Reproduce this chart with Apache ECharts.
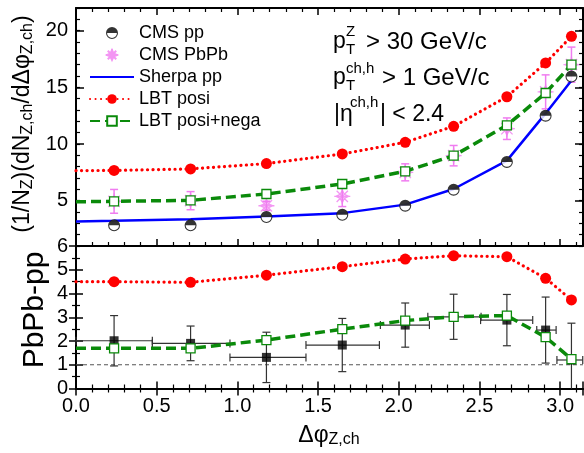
<!DOCTYPE html>
<html><head><meta charset="utf-8">
<script src="https://cdn.jsdelivr.net/npm/echarts@6/dist/echarts.min.js"></script>
<style>html,body{margin:0;padding:0;background:#fff}#c{width:584px;height:453px}</style>
</head><body><div id="c"></div>
<script>
// ---------- data ----------
const xCenters = [0.236, 0.71, 1.18, 1.65, 2.04, 2.34, 2.67, 2.91, 3.07];
const xLine = [0, 0.236, 0.71, 1.18, 1.65, 2.04, 2.34, 2.67, 2.91, 3.07];
const binLow = [0, 0.473, 0.954, 1.425, 1.886, 2.18, 2.507, 2.855, 2.98];
const binHigh = [0.473, 0.954, 1.425, 1.88, 2.19, 2.51, 2.83, 2.975, 3.14];
// top panel
const cmsPP = [2.82, 2.82, 3.56, 3.76, 4.56, 5.97, 8.42, 12.5, 15.95];
const cmsPbPb = [4.94, 5.0, 4.55, 5.38, 7.5, 8.97, 11.35, 14.6, 17.0];
const cmsPbPbErr = [1.05, 0.8, 0.4, 0.9, 0.75, 0.9, 0.95, 1.5, 1.55];
const sherpaPP = [3.17, 3.23, 3.36, 3.6, 3.9, 4.65, 6.03, 8.53, 12.7, 15.6];
const lbtPosi = [7.65, 7.67, 7.8, 8.27, 9.12, 10.15, 11.56, 14.17, 17.15, 19.5];
const lbtPosiNega = [4.9, 4.94, 5.03, 5.59, 6.47, 7.59, 8.97, 11.65, 14.5, 17.0];
// bottom panel (PbPb-pp)
const cmsDiff = [2.01, 1.9, 1.31, 1.83, 2.67, 3.02, 2.88, 2.46, 1.2];
const cmsDiffErr = [1.06, 0.73, 1.06, 1.12, 0.93, 0.95, 1.08, 1.39, 1.55];
const lbtPosiDiff = [4.5, 4.5, 4.47, 4.77, 5.13, 5.45, 5.59, 5.55, 4.64, 3.73];
const lbtPosiNegaDiff = [1.69, 1.69, 1.69, 2.04, 2.5, 2.86, 3.02, 3.07, 2.16, 1.24];
const refLevel = 1;
// ticks
const topMajorTicks = [5, 10, 15, 20];

// ---------- helpers ----------
const FF = '"Liberation Sans", Arial, sans-serif';
const pairs = (xs, ys) => xs.map((x, i) => [x, ys[i]]);
const lineData = (xs, ys) => xs.map((x, i) => i === 0 ? {value: [x, ys[i]], symbol: 'none'} : [x, ys[i]]);

function errRender(color, lw, capW, withX) {
  return function (params, api) {
    const x = api.value(0), y = api.value(1), e = api.value(2);
    const cs = params.coordSys;
    const yMin = cs.y, yMax = cs.y + cs.height;
    const top = api.coord([x, y + e]), bot = api.coord([x, y - e]);
    const st = {stroke: color, lineWidth: lw};
    const ch = [];
    const yt = Math.max(top[1], yMin), yb = Math.min(bot[1], yMax);
    ch.push({type: 'line', shape: {x1: top[0], y1: yt, x2: top[0], y2: yb}, style: st});
    if (top[1] >= yMin) ch.push({type: 'line', shape: {x1: top[0] - capW, y1: top[1], x2: top[0] + capW, y2: top[1]}, style: st});
    if (bot[1] <= yMax) ch.push({type: 'line', shape: {x1: bot[0] - capW, y1: bot[1], x2: bot[0] + capW, y2: bot[1]}, style: st});
    if (withX) {
      const l = api.coord([api.value(3), y]), r = api.coord([api.value(4), y]);
      ch.push({type: 'line', shape: {x1: l[0], y1: l[1], x2: r[0], y2: r[1]}, style: st});
      ch.push({type: 'line', shape: {x1: l[0], y1: l[1] - capW, x2: l[0], y2: l[1] + capW}, style: st});
      ch.push({type: 'line', shape: {x1: r[0], y1: r[1] - capW, x2: r[0], y2: r[1] + capW}, style: st});
    }
    return {type: 'group', children: ch};
  };
}

const halfCircle = 'path://M0,10A10,10,0,1,1,20,10A10,10,0,1,1,0,10ZM1.8,10A8.2,8.2,0,1,0,18.2,10A8.2,8.2,0,1,0,1.8,10ZM1.8,10A8.2,8.2,0,0,1,18.2,10Z';
const starPath = 'path://M10,0L10,20M0,10L20,10M2.93,2.93L17.07,17.07M2.93,17.07L17.07,2.93M10,2L12.5,7.5L18,10L12.5,12.5L10,18L7.5,12.5L2,10L7.5,7.5Z';

const axisLineStyle = {show: true, lineStyle: {color: '#000', width: 2}};
function xAx(grid, pos, labels) {
  return {
    type: 'value', gridIndex: grid, position: pos, min: 0, max: Math.PI, interval: 0.5,
    axisLine: axisLineStyle,
    axisTick: {inside: true, length: 7, lineStyle: {color: '#000', width: 1.5}},
    minorTick: {show: true, splitNumber: 5, length: 4, lineStyle: {color: '#000', width: 1.2}},
    splitLine: {show: false},
    axisLabel: {show: labels, showMaxLabel: false, margin: 8, color: '#000', fontSize: 20, fontFamily: FF,
      formatter: v => v.toFixed(1)}
  };
}
function yTop(pos, labels) {
  return {
    type: 'value', gridIndex: 0, position: pos, min: 1, max: 22, interval: 1,
    axisLine: axisLineStyle,
    axisTick: {inside: true, length: 4, lineStyle: {color: '#000', width: 1.2}},
    splitLine: {show: false},
    axisLabel: {show: labels, margin: 8, color: '#000', fontSize: 20, fontFamily: FF,
      formatter: v => (v % 5 === 0 ? String(v) : '')}
  };
}
function yTopMajor(pos) {
  return {
    type: 'value', gridIndex: 0, position: pos, min: 1, max: 22,
    axisLine: {show: false},
    axisTick: {inside: true, length: 8, customValues: topMajorTicks, lineStyle: {color: '#000', width: 1.5}},
    splitLine: {show: false}, axisLabel: {show: false}
  };
}
function yBot(pos, labels) {
  return {
    type: 'value', gridIndex: 1, position: pos, min: 0, max: 6, interval: 1,
    axisLine: axisLineStyle,
    axisTick: {inside: true, length: 7, lineStyle: {color: '#000', width: 1.5}},
    minorTick: {show: true, splitNumber: 2, length: 4, lineStyle: {color: '#000', width: 1.2}},
    splitLine: {show: false},
    axisLabel: {show: labels, margin: 8, color: '#000', fontSize: 20, fontFamily: FF}
  };
}

const red = '#ff0000', green = '#0a8a0a', blue = '#0000ff', pink = '#f07cf0';

const option = {
  animation: false,
  backgroundColor: '#fff',
  grid: [
    {left: 76, right: 1, top: 8, height: 238},
    {left: 76, right: 1, top: 246, height: 142.5}
  ],
  xAxis: [xAx(0, 'bottom', false), xAx(0, 'top', false), xAx(1, 'bottom', true), xAx(1, 'top', false)],
  yAxis: [yTop('left', true), yTopMajor('left'), yTop('right', false), yTopMajor('right'), yBot('left', true), yBot('right', false)],
  legend: {
    orient: 'vertical', left: 89, top: 23, padding: 0, itemWidth: 44, itemHeight: 12, itemGap: 2,
    textStyle: {fontSize: 18, lineHeight: 20, color: '#000', fontFamily: FF},
    data: ['CMS pp', 'CMS PbPb',
      {name: 'Sherpa pp', itemStyle: {color: 'rgba(0,0,0,0)', borderWidth: 0, opacity: 0}},
      'LBT posi', 'LBT posi+nega']
  },
  series: [
    // ---- top panel ----
    {type: 'custom', name: 'PbPb err', xAxisIndex: 0, yAxisIndex: 0, z: 1,
      renderItem: errRender(pink, 1.5, 4, false), encode: {x: 0, y: 1},
      data: xCenters.map((x, i) => [x, cmsPbPb[i], cmsPbPbErr[i]])},
    {type: 'scatter', name: 'CMS PbPb', xAxisIndex: 0, yAxisIndex: 0, z: 1,
      symbol: starPath, symbolSize: 16, symbolKeepAspect: true,
      itemStyle: {color: 'rgba(255,255,255,0)', borderColor: pink, borderWidth: 1.3},
      data: pairs(xCenters, cmsPbPb)},
    {type: 'line', name: 'Sherpa pp', xAxisIndex: 0, yAxisIndex: 0, z: 2, showSymbol: false, symbol: 'none',
      lineStyle: {color: blue, width: 2.5}, itemStyle: {color: blue},
      data: pairs(xLine, sherpaPP)},
    {type: 'line', name: 'LBT posi', xAxisIndex: 0, yAxisIndex: 0, z: 2,
      symbol: 'circle', symbolSize: 11, itemStyle: {color: red},
      lineStyle: {color: red, width: 3.2, type: [0.1, 5.4], cap: 'round'},
      data: lineData(xLine, lbtPosi)},
    {type: 'line', name: 'LBT posi+nega', xAxisIndex: 0, yAxisIndex: 0, z: 2,
      symbol: 'rect', symbolSize: 9, itemStyle: {color: '#fff', borderColor: green, borderWidth: 1.3},
      lineStyle: {color: green, width: 3.5, type: [10, 5]},
      data: lineData(xLine, lbtPosiNega)},
    {type: 'scatter', name: 'pp bg', xAxisIndex: 0, yAxisIndex: 0, z: 3, symbol: 'circle', symbolSize: 11,
      itemStyle: {color: '#fff'}, silent: true, data: pairs(xCenters, cmsPP)},
    {type: 'scatter', name: 'CMS pp', xAxisIndex: 0, yAxisIndex: 0, z: 4,
      symbol: halfCircle, symbolSize: 12, symbolKeepAspect: true, itemStyle: {color: '#000'},
      data: pairs(xCenters, cmsPP)},
    // ---- bottom panel ----
    {type: 'line', name: 'ref', xAxisIndex: 2, yAxisIndex: 4, z: 1, symbol: 'none',
      lineStyle: {color: '#555', width: 1, type: [4, 3]},
      data: [[0, refLevel], [Math.PI, refLevel]]},
    {type: 'custom', name: 'diff err', xAxisIndex: 2, yAxisIndex: 4, z: 2,
      renderItem: errRender('#333', 1.2, 4, true), encode: {x: 0, y: 1},
      data: xCenters.map((x, i) => [x, cmsDiff[i], cmsDiffErr[i], binLow[i], binHigh[i]])},
    {type: 'scatter', name: 'CMS PbPb-pp', xAxisIndex: 2, yAxisIndex: 4, z: 3,
      symbol: 'rect', symbolSize: 9, itemStyle: {color: '#000'},
      data: pairs(xCenters, cmsDiff)},
    {type: 'line', name: 'LBT posi', xAxisIndex: 2, yAxisIndex: 4, z: 4,
      symbol: 'circle', symbolSize: 11, itemStyle: {color: red},
      lineStyle: {color: red, width: 3.2, type: [0.1, 5.4], cap: 'round'},
      data: lineData(xLine, lbtPosiDiff)},
    {type: 'line', name: 'LBT posi+nega', xAxisIndex: 2, yAxisIndex: 4, z: 4,
      symbol: 'rect', symbolSize: 9, itemStyle: {color: '#fff', borderColor: green, borderWidth: 1.3},
      lineStyle: {color: green, width: 3.5, type: [10, 5]},
      data: lineData(xLine, lbtPosiNegaDiff)}
  ],
  graphic: [
    // y axis titles
    {type: 'text', x: 23, y: 124, rotation: Math.PI / 2,
      style: {text: '(1/N{s|Z})(dN{s|Z,ch}/dΔφ{s|Z,ch})', fontSize: 23, lineHeight: 26, fontFamily: FF, fill: '#000',
        align: 'center', verticalAlign: 'middle',
        rich: {s: {fontSize: 16, lineHeight: 8, verticalAlign: 'bottom', fontFamily: FF, fill: '#000'}}}},
    {type: 'text', x: 35, y: 310, rotation: Math.PI / 2,
      style: {text: 'PbPb-pp', fontSize: 30, fontFamily: FF, fill: '#000', align: 'center', verticalAlign: 'middle'}},
    // x axis title
    {type: 'text', x: 329, y: 436,
      style: {text: 'Δφ{s|Z,ch}', fontSize: 23, lineHeight: 24, fontFamily: FF, fill: '#000',
        align: 'center', verticalAlign: 'middle',
        rich: {s: {fontSize: 16, lineHeight: 6, verticalAlign: 'bottom', fontFamily: FF, fill: '#000'}}}},
    // annotations
    {type: 'text', x: 333, y: 42, style: {text: 'p', fontSize: 23, fontFamily: FF, fill: '#000', verticalAlign: 'middle'}},
    {type: 'text', x: 346, y: 32, style: {text: 'Z', fontSize: 15, fontFamily: FF, fill: '#000', verticalAlign: 'middle'}},
    {type: 'text', x: 346, y: 50, style: {text: 'T', fontSize: 15, fontFamily: FF, fill: '#000', verticalAlign: 'middle'}},
    {type: 'text', x: 366, y: 42, style: {text: '> 30 GeV/c', fontSize: 24, fontFamily: FF, fill: '#000', verticalAlign: 'middle'}},
    {type: 'text', x: 333, y: 78, style: {text: 'p', fontSize: 23, fontFamily: FF, fill: '#000', verticalAlign: 'middle'}},
    {type: 'text', x: 346, y: 69, style: {text: 'ch,h', fontSize: 15, fontFamily: FF, fill: '#000', verticalAlign: 'middle'}},
    {type: 'text', x: 346, y: 86, style: {text: 'T', fontSize: 15, fontFamily: FF, fill: '#000', verticalAlign: 'middle'}},
    {type: 'text', x: 382, y: 78, style: {text: '> 1 GeV/c', fontSize: 24, fontFamily: FF, fill: '#000', verticalAlign: 'middle'}},
    {type: 'text', x: 334, y: 115, style: {text: '|η', fontSize: 23, fontFamily: FF, fill: '#000', verticalAlign: 'middle'}},
    {type: 'text', x: 350, y: 103, style: {text: 'ch,h', fontSize: 15, fontFamily: FF, fill: '#000', verticalAlign: 'middle'}},
    {type: 'text', x: 380, y: 115, style: {text: '| < 2.4', fontSize: 23, fontFamily: FF, fill: '#000', verticalAlign: 'middle'}}
  ]
};
const chart = echarts.init(document.getElementById('c'), null, {renderer: 'canvas'});
chart.setOption(option);
</script></body></html>
